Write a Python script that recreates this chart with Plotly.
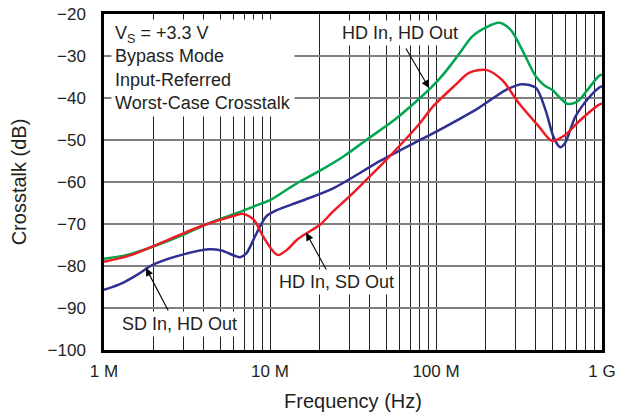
import plotly.graph_objects as go
import numpy as np

# frequencies in MHz, crosstalk in dB
hd_hd_freq = [1.0, 1.4, 2.0, 3.0, 4.0, 5.0, 6.6, 8.0, 10, 13, 15, 20, 28, 38, 55, 75, 93,
              110, 135, 165, 200, 240, 282, 331, 400, 450, 503, 560, 620, 680, 727, 820, 955, 1000]
hd_hd_db = [-78.3, -77.3, -75.3, -72.6, -70.3, -68.8, -67.1, -65.8, -64.3, -61.5, -60.0, -57.3,
            -53.8, -50.0, -45.5, -41.0, -37.6, -34.5, -30.0, -25.4, -23.2, -22.1, -23.8, -28.6,
            -34.9, -37.0, -38.1, -40.0, -41.4, -41.2, -40.5, -38.0, -34.8, -34.4]

hd_sd_freq = [1.0, 1.4, 1.95, 3.8, 6.0, 6.9, 8.0, 9.1, 10.5, 11.2, 12.6, 14.5, 16.6, 20, 24, 30,
              38, 48, 65, 80, 96, 130, 158, 200, 250, 315, 417, 500, 600, 725, 950, 1000]
hd_sd_db = [-79.0, -77.6, -75.4, -70.6, -68.1, -67.6, -69.0, -73.0, -76.6, -77.4, -76.2, -73.8,
            -72.2, -70.2, -67.0, -63.5, -59.5, -55.5, -50.0, -46.0, -42.0, -37.0, -34.0, -33.3,
            -35.7, -41.2, -46.8, -50.2, -48.8, -45.6, -41.7, -41.3]

sd_hd_freq = [1.0, 1.3, 1.6, 1.95, 2.9, 4.3, 5.1, 6.6, 7.2, 8.3, 9.5, 11, 15, 24, 47, 96, 105,
              180, 263, 330, 400, 457, 513, 560, 600, 690, 830, 955, 1000]
sd_hd_db = [-85.7, -84.0, -82.0, -79.8, -77.4, -76.0, -76.3, -77.9, -77.0, -72.2, -68.2, -66.7,
            -64.7, -61.5, -54.8, -48.4, -47.6, -42.4, -38.1, -36.7, -37.6, -42.9, -49.5, -51.7,
            -50.7, -44.5, -40.0, -37.6, -37.2]

y_ticks = [-100, -90, -80, -70, -60, -50, -40, -30, -20]
x_decades = [1e6, 1e7, 1e8, 1e9]
x_labels = ["1 M", "10 M", "100 M", "1 G"]

FONT = "Liberation Sans, Arial, sans-serif"

x_vals, x_text = [], []
for d in x_decades[:-1]:
    for m in range(1, 10):
        x_vals.append(d * m)
        x_text.append(x_labels[x_decades.index(d)] if m == 1 else "")
x_vals.append(1e9)
x_text.append("1 G")

fig = go.Figure()
series = [
    (hd_hd_freq, hd_hd_db, "#00a651"),
    (sd_hd_freq, sd_hd_db, "#2e3192"),
    (hd_sd_freq, hd_sd_db, "#ed1c24"),
]
for f, v, c in series:
    fig.add_trace(go.Scatter(x=np.array(f) * 1e6, y=v, mode="lines",
                             line=dict(color=c, width=2.5, shape="spline", smoothing=0.8),
                             showlegend=False))

# arrows
arrows = [
    (90.8e6, -37.6, -24, -41),
    (16.5e6, -72.1, 23, 42),
    (1.79e6, -80.5, 23, 44),
]
for x, y, ax, ay in arrows:
    fig.add_annotation(x=np.log10(x), y=y, ax=ax, ay=ay, xref="x", yref="y", text="",
                       showarrow=True, arrowhead=2, arrowsize=1.4, arrowwidth=1.1,
                       arrowcolor="black", standoff=0)

labels = [
    ("HD In, HD Out", 0.595, 0.943),
    ("HD In, SD Out", 0.466, 0.202),
    ("SD In, HD Out", 0.151, 0.077),
]
for t, x, y in labels:
    fig.add_annotation(x=x, y=y, xref="paper", yref="paper", xanchor="center", yanchor="middle",
                       text=t, showarrow=False,
                       bgcolor="white", borderpad=2, font=dict(size=18, color="#231f20"))

fig.add_annotation(x=0.014, y=0.985, xref="paper", yref="paper", xanchor="left", yanchor="top",
                   align="left", showarrow=False, bgcolor="white", borderpad=3,
                   font=dict(size=18, color="#231f20"),
                   text="V<sub>S</sub> = +3.3 V<br>Bypass Mode<br>Input-Referred<br>Worst-Case Crosstalk")

fig.update_layout(
    width=624, height=418,
    margin=dict(l=104, r=22, t=14, b=68),
    paper_bgcolor="white", plot_bgcolor="white",
    font=dict(family=FONT, size=17, color="#231f20"),
)
fig.update_xaxes(type="log", range=[6, 9], tickvals=x_vals, ticktext=x_text,
                 showgrid=True, gridcolor="#222222", gridwidth=1,
                 showline=True, mirror=True, linecolor="black", linewidth=2.5,
                 ticks="", ticklabelstandoff=4, automargin=False, ticklabeloverflow="allow",
                 title=dict(text="Frequency (Hz)", standoff=14))
fig.update_yaxes(range=[-100, -20], tickvals=y_ticks,
                 showgrid=True, gridcolor="#808080", gridwidth=1.5,
                 showline=True, mirror=True, linecolor="black", linewidth=2.5,
                 ticks="", ticklabelstandoff=12, zeroline=False, automargin=False,
                 ticklabeloverflow="allow",
                 title=dict(text="Crosstalk (dB)", standoff=16))

# drop the default 8px page margin so the figure fills the window
fig.write_html("out.html", config={"displayModeBar": False},
               post_script="document.body.style.margin='0px';")
